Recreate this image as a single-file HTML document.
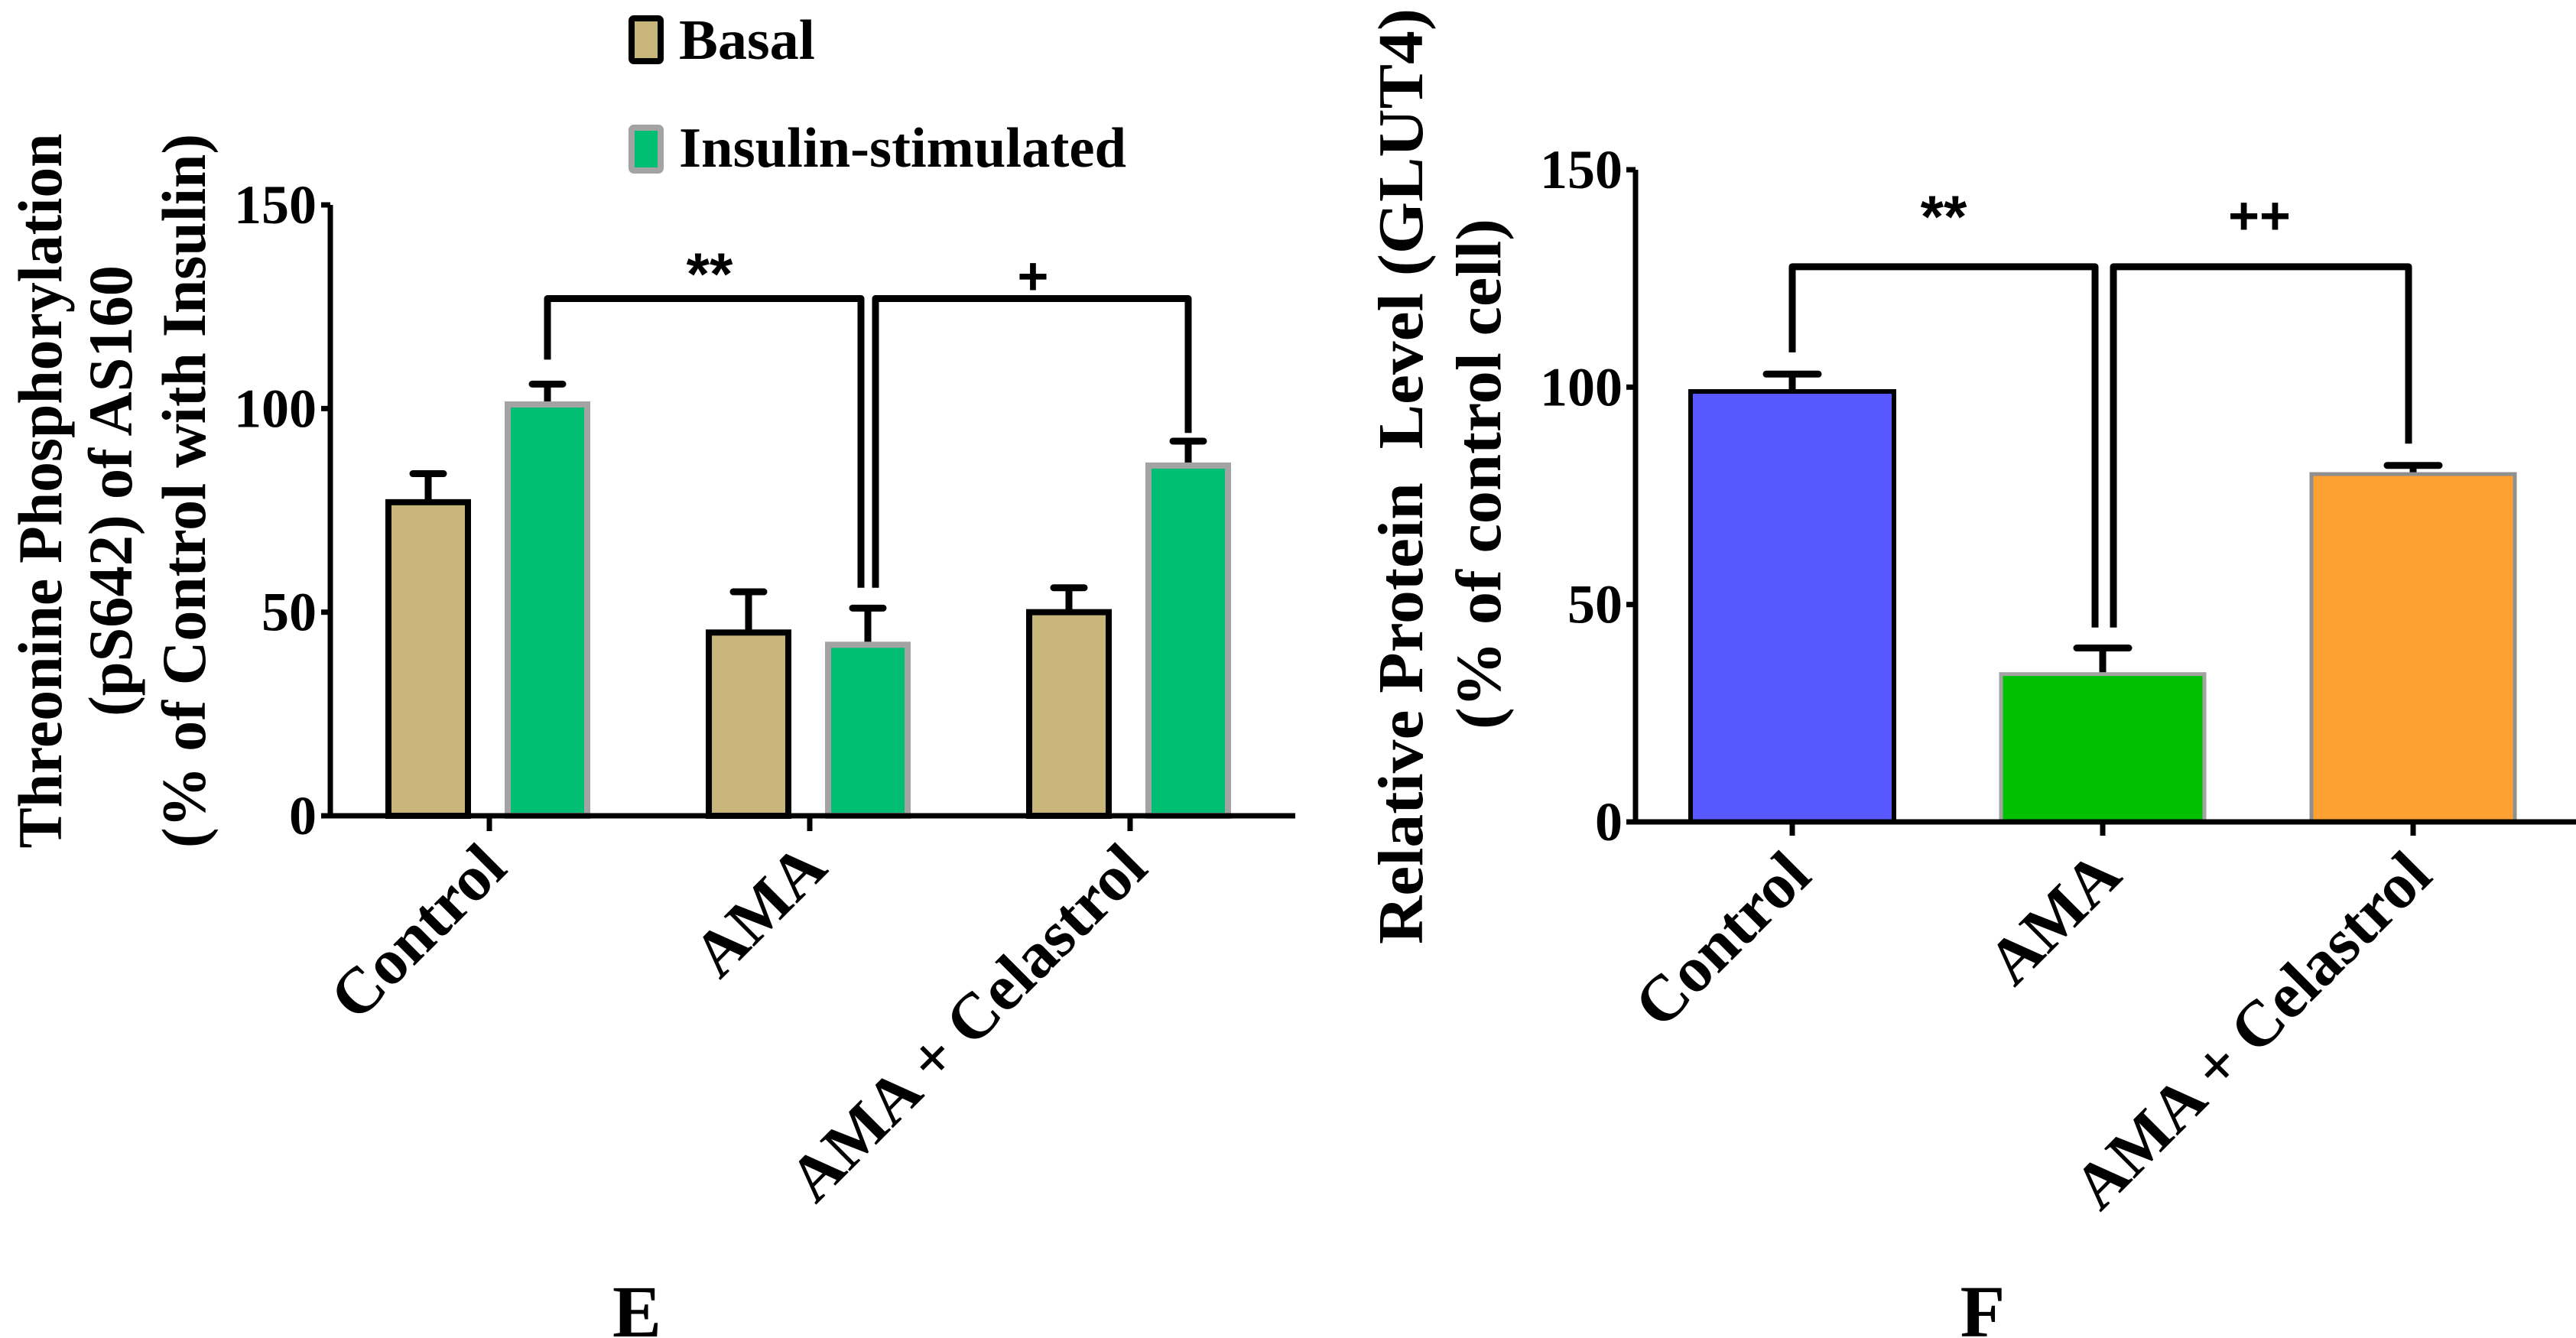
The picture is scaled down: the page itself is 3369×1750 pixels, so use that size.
<!DOCTYPE html>
<html><head><meta charset="utf-8"><style>
html,body{margin:0;padding:0;background:#fff;}
svg{display:block;}
text{font-family:"Liberation Serif",serif;font-weight:bold;fill:#000;}
</style></head><body>
<svg id="fig" width="3369" height="1750" viewBox="0 0 3369 1750" xmlns="http://www.w3.org/2000/svg">
  <g id="panelE"></g>
  <g id="panelF"></g>
</svg>
<script>
// ---------- Panel E data ----------
const eCategories = ["Control", "AMA", "AMA + Celastrol"];
const eBasal = [77, 45, 50];
const eBasalErr = [84, 55, 56];
const eInsulin = [101, 42, 86];
const eInsulinErr = [106, 51, 92];
const eTicks = [0, 50, 100, 150];
// ---------- Panel F data ----------
const fCategories = ["Control", "AMA", "AMA + Celastrol"];
const fValues = [99, 34, 80];
const fErr = [103, 40, 82];
const fTicks = [0, 50, 100, 150];

const NS = "http://www.w3.org/2000/svg";
function mk(tag, attrs, parent, txt) {
  const el = document.createElementNS(NS, tag);
  for (const k in attrs) el.setAttribute(k, attrs[k]);
  if (txt !== undefined) el.textContent = txt;
  parent.appendChild(el);
  return el;
}

// ===== Panel E =====
const gE = document.getElementById('panelE');
const eX0 = 432, eXEnd = 1694, eY0 = 1067, eY150 = 268;
const eY = v => eY0 - (v / 150) * (eY0 - eY150);
const eCat = i => 640 + i * 419;
const eBW = 104;

for (let i = 0; i < eCategories.length; i++) {
  const cx = eCat(i) - 80;
  let l = mk('line', {x1: cx, x2: cx, y1: eY(eBasal[i]), y2: eY(eBasalErr[i]), stroke: '#000', 'stroke-width': 9}, gE);
  
  
  l = mk('line', {x1: cx - 20, x2: cx + 20, y1: eY(eBasalErr[i]), y2: eY(eBasalErr[i]), stroke: '#000', 'stroke-width': 9, 'stroke-linecap': 'round'}, gE);
  
  
  const r = mk('rect', {x: cx - eBW / 2, y: eY(eBasal[i]), width: eBW, height: eY0 - eY(eBasal[i]), fill: '#c8b57a', stroke: '#000', 'stroke-width': 8}, gE);
  
  

  const gx = eCat(i) + 76;
  l = mk('line', {x1: gx, x2: gx, y1: eY(eInsulin[i]), y2: eY(eInsulinErr[i]), stroke: '#000', 'stroke-width': 9}, gE);
  
  
  l = mk('line', {x1: gx - 20, x2: gx + 20, y1: eY(eInsulinErr[i]), y2: eY(eInsulinErr[i]), stroke: '#000', 'stroke-width': 9, 'stroke-linecap': 'round'}, gE);
  
  
  const r2 = mk('rect', {x: gx - eBW / 2, y: eY(eInsulin[i]), width: eBW, height: eY0 - eY(eInsulin[i]), fill: '#00bf73', stroke: '#a3a3a3', 'stroke-width': 8}, gE);
  
  

  const t = mk('line', {x1: eCat(i), x2: eCat(i), y1: eY0, y2: eY0 + 20, stroke: '#000', 'stroke-width': 7}, gE);
  
  
  const lab = mk('text', {x: 0, y: 0, 'font-size': 85, 'text-anchor': 'end', transform: `translate(${eCat(i) + 26},${eY0 + 72}) rotate(-45)`}, gE, eCategories[i]);
  
  
}
let ax = mk('line', {x1: eX0, x2: eX0, y1: eY150, y2: eY0 + 3, stroke: '#000', 'stroke-width': 7}, gE);


ax = mk('line', {x1: eX0 - 4, x2: eXEnd, y1: eY0, y2: eY0, stroke: '#000', 'stroke-width': 7}, gE);


eTicks.forEach(v => {
  const t = mk('line', {x1: eX0 - 12, x2: eX0, y1: eY(v), y2: eY(v), stroke: '#000', 'stroke-width': 7}, gE);
  
  
  const tl = mk('text', {x: eX0 - 18, y: eY(v) + 24, 'font-size': 72, 'text-anchor': 'end'}, gE, String(v));
  
  
});
const eBr = 127;
let br = mk('path', {d: `M${eCat(0) + 76},${eY(112)} V${eY(eBr)} H${eCat(1) + 67} V${eY(56)}`, fill: 'none', stroke: '#000', 'stroke-width': 9, 'stroke-linejoin': 'round'}, gE);


br = mk('path', {d: `M${eCat(1) + 86},${eY(56)} V${eY(eBr)} H${eCat(2) + 76} V${eY(94)}`, fill: 'none', stroke: '#000', 'stroke-width': 9, 'stroke-linejoin': 'round'}, gE);


let st = mk('text', {x: 928, y: 385, 'font-size': 78, 'text-anchor': 'middle', style: 'font-family:"Liberation Sans",sans-serif'}, gE, '**');


st = mk('text', {x: 1351, y: 385, 'font-size': 70, 'text-anchor': 'middle', style: 'font-family:"Liberation Sans",sans-serif'}, gE, '+');


const eTitles = [["Threonine Phosphorylation", 80, 935], ["(pS642) of AS160", 172, 590], ["(% of Control with Insulin)", 268, 934]];
eTitles.forEach((t, k) => {
  const el = mk('text', {x: 0, y: 0, 'font-size': 82, 'text-anchor': 'middle', textLength: t[2], lengthAdjust: 'spacingAndGlyphs', transform: `translate(${t[1]},642) rotate(-90)`}, gE, t[0]);
  
  
});
let lg = mk('rect', {x: 826, y: 24, width: 38, height: 56, fill: '#c8b57a', stroke: '#000', 'stroke-width': 8, rx: 3}, gE);


lg = mk('text', {x: 888, y: 77, 'font-size': 74, textLength: 178, lengthAdjust: 'spacingAndGlyphs'}, gE, 'Basal');


lg = mk('rect', {x: 826, y: 167, width: 38, height: 56, fill: '#00bf73', stroke: '#a3a3a3', 'stroke-width': 8, rx: 3}, gE);


lg = mk('text', {x: 888, y: 218, 'font-size': 74, textLength: 585, lengthAdjust: 'spacingAndGlyphs'}, gE, 'Insulin-stimulated');


lg = mk('text', {x: 833, y: 1748, 'font-size': 96, 'text-anchor': 'middle'}, gE, 'E');



// ===== Panel F =====
const gF = document.getElementById('panelF');
const fX0 = 2139, fXEnd = 3369, fY0 = 1075, fY150 = 222;
const fY = v => fY0 - (v / 150) * (fY0 - fY150);
const fCat = i => 2344 + i * 406;
const fBW = 266;
const fFill = ['#5858ff', '#00c000', '#ffa033'];
const fStroke = ['#000', '#a3a3a3', '#8f8f8f'];
for (let i = 0; i < fCategories.length; i++) {
  const cx = fCat(i);
  let l = mk('line', {x1: cx, x2: cx, y1: fY(fValues[i]), y2: fY(fErr[i]), stroke: '#000', 'stroke-width': 9}, gF);
  
  
  l = mk('line', {x1: cx - 34, x2: cx + 34, y1: fY(fErr[i]), y2: fY(fErr[i]), stroke: '#000', 'stroke-width': 9, 'stroke-linecap': 'round'}, gF);
  
  
  const r = mk('rect', {x: cx - fBW / 2, y: fY(fValues[i]), width: fBW, height: fY0 - fY(fValues[i]), fill: fFill[i], stroke: fStroke[i], 'stroke-width': i === 0 ? 6 : 5}, gF);
  
  
  const t = mk('line', {x1: cx, x2: cx, y1: fY0, y2: fY0 + 18, stroke: '#000', 'stroke-width': 7}, gF);
  
  
  const lab = mk('text', {x: 0, y: 0, 'font-size': 85, 'text-anchor': 'end', transform: `translate(${cx + 28},${fY0 + 74}) rotate(-45)`}, gF, fCategories[i]);
  
  
}
ax = mk('line', {x1: fX0, x2: fX0, y1: fY150, y2: fY0 + 3, stroke: '#000', 'stroke-width': 7}, gF);


ax = mk('line', {x1: fX0 - 4, x2: fXEnd, y1: fY0, y2: fY0, stroke: '#000', 'stroke-width': 7}, gF);


fTicks.forEach(v => {
  const t = mk('line', {x1: fX0 - 12, x2: fX0, y1: fY(v), y2: fY(v), stroke: '#000', 'stroke-width': 7}, gF);
  
  
  const tl = mk('text', {x: fX0 - 17, y: fY(v) + 24, 'font-size': 72, 'text-anchor': 'end'}, gF, String(v));
  
  
});
const fBr = 127.7;
br = mk('path', {d: `M${fCat(0)},${fY(108)} V${fY(fBr)} H${fCat(1) - 10} V${fY(44.7)}`, fill: 'none', stroke: '#000', 'stroke-width': 9, 'stroke-linejoin': 'round'}, gF);


br = mk('path', {d: `M${fCat(1) + 14},${fY(44.7)} V${fY(fBr)} H${fCat(2) - 6} V${fY(87)}`, fill: 'none', stroke: '#000', 'stroke-width': 9, 'stroke-linejoin': 'round'}, gF);


st = mk('text', {x: 2542, y: 310, 'font-size': 78, 'text-anchor': 'middle', style: 'font-family:"Liberation Sans",sans-serif'}, gF, '**');


st = mk('text', {x: 2955, y: 306, 'font-size': 70, 'text-anchor': 'middle', style: 'font-family:"Liberation Sans",sans-serif'}, gF, '++');


const fTitles = [["Relative Protein  Level (GLUT4)", 1860, 1224, 623], ["(% of control cell)", 1962, 668, 620]];
fTitles.forEach((t, k) => {
  const el = mk('text', {x: 0, y: 0, 'font-size': 84, 'text-anchor': 'middle', textLength: t[2], lengthAdjust: 'spacingAndGlyphs', transform: `translate(${t[1]},${t[3]}) rotate(-90)`, style: 'white-space:pre'}, gF, t[0]);
  
  
});
lg = mk('text', {x: 2593, y: 1748, 'font-size': 96, 'text-anchor': 'middle'}, gF, 'F');


</script>
</body></html>
